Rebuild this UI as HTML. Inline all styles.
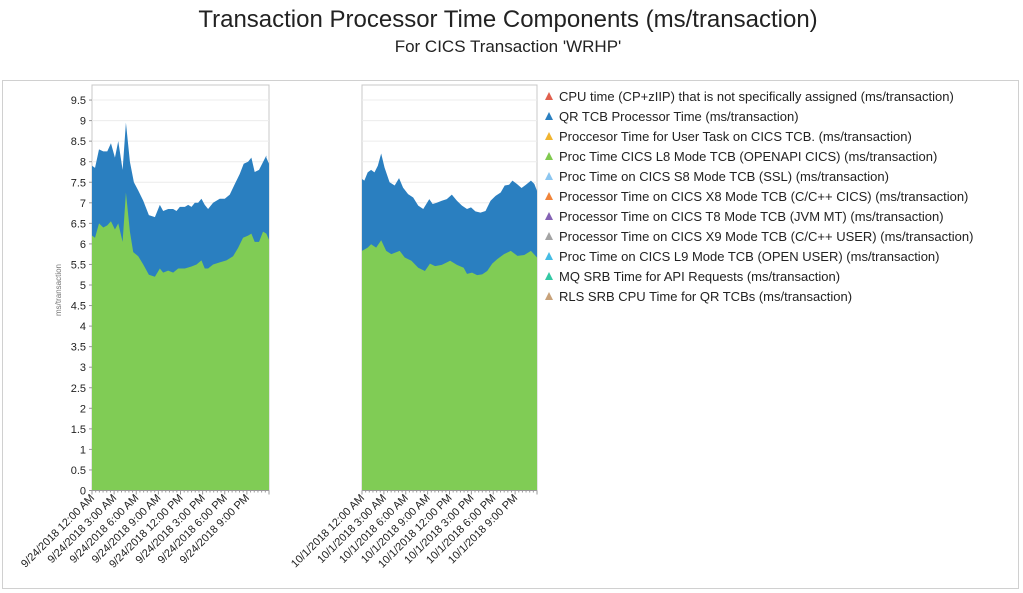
<!DOCTYPE html>
<html><head><meta charset="utf-8"><style>
body{margin:0;background:#fff;font-family:"Liberation Sans",sans-serif;}
#root{position:relative;width:1023px;height:593px;overflow:hidden;}
</style></head><body>
<div id="root">
<svg id="svg" width="1023" height="593" xmlns="http://www.w3.org/2000/svg">
<text x="508" y="27" text-anchor="middle" font-size="24" fill="#222">Transaction Processor Time Components (ms/transaction)</text>
<text x="508" y="52" text-anchor="middle" font-size="17" fill="#222">For CICS Transaction 'WRHP'</text>
<rect x="2.5" y="80.5" width="1016" height="508" fill="none" stroke="#d0d0d0"/>
<text transform="translate(61,290) rotate(-90)" text-anchor="middle" font-size="8" fill="#777">ms/transaction</text>
<g id="g"></g>
</svg>
</div>
<script>
const yTicks=[0,0.5,1,1.5,2,2.5,3,3.5,4,4.5,5,5.5,6,6.5,7,7.5,8,8.5,9,9.5];
const leftXLabels=["9/24/2018 12:00 AM","9/24/2018 3:00 AM","9/24/2018 6:00 AM","9/24/2018 9:00 AM","9/24/2018 12:00 PM","9/24/2018 3:00 PM","9/24/2018 6:00 PM","9/24/2018 9:00 PM"];
const rightXLabels=["10/1/2018 12:00 AM","10/1/2018 3:00 AM","10/1/2018 6:00 AM","10/1/2018 9:00 AM","10/1/2018 12:00 PM","10/1/2018 3:00 PM","10/1/2018 6:00 PM","10/1/2018 9:00 PM"];
// left day: hour positions (0-24) and values
const leftTotalHours=[0,0.41,0.95,1.53,2.07,2.57,3.11,3.56,4.15,4.6,5.14,5.68,6.27,6.95,7.71,8.53,9.2,9.65,10.33,11.0,11.46,11.91,12.59,13.04,13.49,13.94,14.39,14.84,15.29,15.74,16.42,17.32,18.0,18.68,19.35,20.03,20.57,21.16,21.61,22.06,22.65,23.64,23.64,24];
const leftTotal=[7.9,7.85,8.3,8.25,8.25,8.45,8.1,8.5,7.8,8.95,8.0,7.5,7.3,7.05,6.7,6.65,6.95,6.8,6.85,6.85,6.8,6.9,6.9,6.95,6.9,7.0,7.0,7.1,6.95,6.85,7.0,7.1,7.1,7.2,7.45,7.7,7.95,8.0,8.1,7.75,7.8,8.15,8.1,7.95];
const leftL8Hours=[0,0.41,0.95,1.53,2.07,2.57,3.11,3.56,4.15,4.6,5.14,5.59,6.27,6.95,7.71,8.53,9.2,9.65,10.33,11.0,11.69,12.59,13.49,14.17,14.84,15.29,15.74,16.42,17.32,18.23,19.13,19.8,20.48,21.16,21.61,22.06,22.65,23.19,23.64,24];
const leftL8=[6.2,6.15,6.5,6.4,6.45,6.55,6.35,6.5,6.05,7.25,6.3,5.8,5.7,5.5,5.25,5.2,5.4,5.3,5.35,5.3,5.4,5.4,5.45,5.5,5.6,5.4,5.4,5.5,5.55,5.6,5.7,5.9,6.15,6.2,6.25,6.05,6.05,6.3,6.25,6.1];
// right day
const rightTotalHours=[0,0.32,0.78,1.25,1.71,2.17,2.63,3.09,3.78,4.48,5.08,5.63,6.32,7.02,7.71,8.4,9.23,9.69,10.25,10.94,11.63,12.32,13.02,13.71,14.4,14.95,15.55,16.25,16.94,17.63,18.32,19.02,19.57,20.17,20.63,21.23,21.88,22.48,23.17,23.63,24];
const rightTotal=[7.58,7.54,7.74,7.8,7.74,7.9,8.2,7.86,7.5,7.42,7.6,7.37,7.21,7.13,6.93,6.85,7.09,6.97,7.0,7.05,7.09,7.2,7.05,6.93,6.85,6.89,6.79,6.76,6.8,7.05,7.17,7.25,7.42,7.44,7.54,7.46,7.36,7.44,7.54,7.46,7.29];
const rightL8Hours=[0,0.78,1.25,1.94,2.63,3.32,4.02,5.17,5.86,6.78,7.71,8.63,9.32,10.02,10.94,12.09,13.02,13.94,14.4,15.09,15.78,16.48,17.17,17.86,18.55,19.48,20.4,21.32,22.25,23.17,24];
const rightL8=[5.83,5.91,5.99,5.91,6.09,5.83,5.75,5.83,5.67,5.59,5.42,5.34,5.52,5.46,5.49,5.59,5.49,5.42,5.27,5.3,5.24,5.26,5.34,5.52,5.63,5.75,5.83,5.71,5.73,5.83,5.67];
const legendItems=["CPU time (CP+zIIP) that is not specifically assigned (ms/transaction)","QR TCB Processor Time (ms/transaction)","Proccesor Time for User Task on CICS TCB. (ms/transaction)","Proc Time CICS L8 Mode TCB (OPENAPI CICS) (ms/transaction)","Proc Time on CICS S8 Mode TCB (SSL) (ms/transaction)","Processor Time on CICS X8 Mode TCB (C/C++ CICS) (ms/transaction)","Processor Time on CICS T8 Mode TCB (JVM MT) (ms/transaction)","Processor Time on CICS X9 Mode TCB (C/C++ USER) (ms/transaction)","Proc Time on CICS L9 Mode TCB (OPEN USER) (ms/transaction)","MQ SRB Time for API Requests (ms/transaction)","RLS SRB CPU Time for QR TCBs (ms/transaction)"];
const legendColors=["#e0604e","#2a7fc0","#f0b430","#80c94f","#8cc6f0","#f0843a","#8462b4","#a4a4a4","#46bce4","#34c8a4","#c8a27a"];

const NS="http://www.w3.org/2000/svg";
const g=document.getElementById('g');
function mk(tag,attrs,parent){const e=document.createElementNS(NS,tag);for(const k in attrs)e.setAttribute(k,attrs[k]);(parent||g).appendChild(e);return e;}
const Y0=490.5,PU=41.1,TOP=85;
const y=v=>Y0-v*PU;
function panel(x0,x1,totH,tot,l8H,l8,labels,name,showY){
  const x=h=>x0+(x1-x0)*h/24;
  const frame=mk('rect',{x:x0,y:TOP,width:x1-x0,height:Y0-TOP,fill:'#fff',stroke:'#c8c8c8'});
  
  
  yTicks.forEach(t=>{if(t===0)return;const l=mk('line',{x1:x0,x2:x1,y1:y(t),y2:y(t),stroke:'#ececec'});
    
    });
  let d='M'+x(totH[0])+','+Y0;totH.forEach((h,i)=>d+=' L'+x(h)+','+y(tot[i]));d+=' L'+x(totH[totH.length-1])+','+Y0+'Z';
  const a=mk('path',{d:d,fill:'#2a7fc0'});
  
  
  let d2='M'+x(l8H[0])+','+Y0;l8H.forEach((h,i)=>d2+=' L'+x(h)+','+y(l8[i]));d2+=' L'+x(l8H[l8H.length-1])+','+Y0+'Z';
  const b=mk('path',{d:d2,fill:'#80cc55'});
  
  
  mk('line',{x1:x0,x2:x1,y1:Y0,y2:Y0,stroke:'#999'});
  for(let i=0;i<=48;i++){mk('line',{x1:x(i/2),x2:x(i/2),y1:Y0,y2:Y0+(i%6===0?4:2),stroke:'#999'});}
  labels.forEach((s,i)=>{const t=mk('text',{transform:'translate('+(x(i*3)+3)+','+(Y0+8)+') rotate(-45)','text-anchor':'end','font-size':'11',fill:'#222'});t.textContent=s;
    
    });
  if(showY){yTicks.forEach(t=>{const tx=mk('text',{x:x0-6,y:y(t)+4,'text-anchor':'end','font-size':'11',fill:'#222'});tx.textContent=String(t);
    
    
    mk('line',{x1:x0-3,x2:x0,y1:y(t),y2:y(t),stroke:'#999'});});}
}
panel(92,269,leftTotalHours,leftTotal,leftL8Hours,leftL8,leftXLabels,'left-panel',true);
panel(362,537,rightTotalHours,rightTotal,rightL8Hours,rightL8,rightXLabels,'right-panel',false);
legendItems.forEach((s,i)=>{const cy=96+i*20;
  const gr=mk('g',{});
  
  
  mk('path',{d:'M545,'+(cy+4)+' L549,'+(cy-4)+' L553,'+(cy+4)+'Z',fill:legendColors[i]},gr);
  const t=mk('text',{x:559,y:cy+5,'font-size':'13',fill:'#222'},gr);t.textContent=s;});
</script>
</body></html>
